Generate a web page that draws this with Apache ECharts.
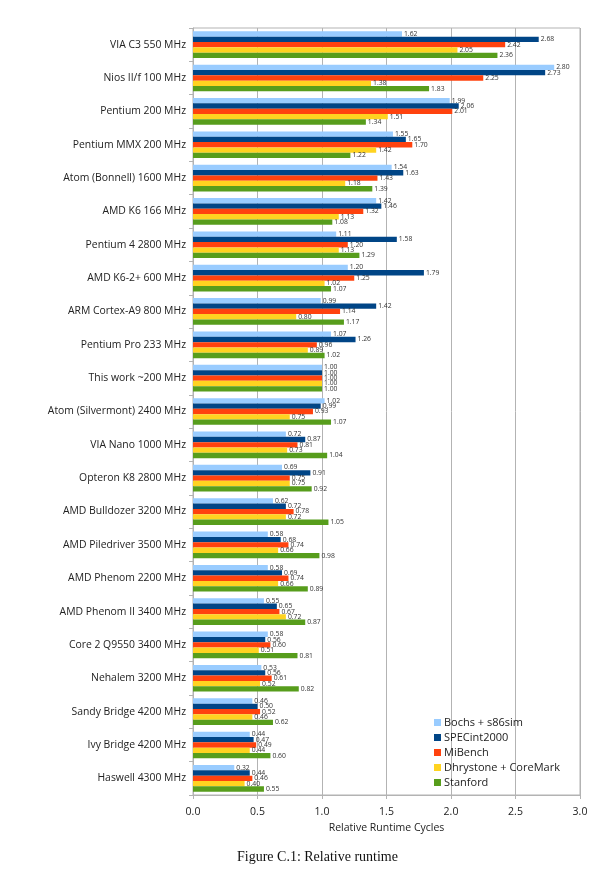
<!DOCTYPE html>
<html>
<head>
<meta charset="utf-8">
<script src="https://cdn.jsdelivr.net/npm/echarts@6/dist/echarts.min.js"></script>
<style>
html,body{margin:0;padding:0;background:#fff;}
#c{width:597px;height:883px;}
</style>
</head>
<body>
<div id="c"></div>
<script>
var categories = ["VIA C3 550 MHz","Nios II/f 100 MHz","Pentium 200 MHz","Pentium MMX 200 MHz","Atom (Bonnell) 1600 MHz","AMD K6 166 MHz","Pentium 4 2800 MHz","AMD K6-2+ 600 MHz","ARM Cortex-A9 800 MHz","Pentium Pro 233 MHz","This work ~200 MHz","Atom (Silvermont) 2400 MHz","VIA Nano 1000 MHz","Opteron K8 2800 MHz","AMD Bulldozer 3200 MHz","AMD Piledriver 3500 MHz","AMD Phenom 2200 MHz","AMD Phenom II 3400 MHz","Core 2 Q9550 3400 MHz","Nehalem 3200 MHz","Sandy Bridge 4200 MHz","Ivy Bridge 4200 MHz","Haswell 4300 MHz"];
var bochs     = [1.62,2.80,1.99,1.55,1.54,1.42,1.11,1.20,0.99,1.07,1.00,1.02,0.72,0.69,0.62,0.58,0.58,0.55,0.58,0.53,0.46,0.44,0.32];
var specint   = [2.68,2.73,2.06,1.65,1.63,1.46,1.58,1.79,1.42,1.26,1.00,0.99,0.87,0.91,0.72,0.68,0.69,0.65,0.56,0.56,0.50,0.47,0.44];
var mibench   = [2.42,2.25,2.01,1.70,1.43,1.32,1.20,1.25,1.14,0.96,1.00,0.93,0.81,0.75,0.78,0.74,0.74,0.67,0.60,0.61,0.52,0.49,0.46];
var dhrystone = [2.05,1.38,1.51,1.42,1.18,1.13,1.13,1.02,0.80,0.89,1.00,0.75,0.73,0.75,0.72,0.66,0.66,0.72,0.51,0.52,0.46,0.44,0.40];
var stanford  = [2.36,1.83,1.34,1.22,1.39,1.08,1.29,1.07,1.17,1.02,1.00,1.07,1.04,0.92,1.05,0.98,0.89,0.87,0.81,0.82,0.62,0.60,0.55];
var seriesNames = ["Bochs + s86sim","SPECint2000","MiBench","Dhrystone + CoreMark","Stanford"];
var xTicks = [0,0.5,1,1.5,2,2.5,3];

var colors = ["#99ccff","#004586","#ff420e","#ffd320","#579d1c"];
var allData = [bochs, specint, mibench, dhrystone, stanford];
var font = "'Open Sans', 'Noto Sans', sans-serif";

var chart = echarts.init(document.getElementById('c'), null, {renderer:'canvas'});
var series = allData.map(function(d, i){
  return {
    name: seriesNames[i],
    type: 'bar',
    data: d,
    barGap: '0%',
    barCategoryGap: '20%',
    itemStyle: {color: colors[i]},
    label: {
      show: true, position: 'right', distance: 2,
      fontSize: 6.8, color: '#333', fontFamily: font,
      formatter: function(p){ return p.value.toFixed(2); }
    }
  };
});
chart.setOption({
  animation: false,
  backgroundColor: '#fff',
  color: colors,
  grid: {left: 193, right: 17, top: 28, bottom: 88, show: true, borderColor: '#b3b3b3', borderWidth: 1},
  xAxis: {
    type: 'value', min: xTicks[0], max: xTicks[xTicks.length-1], interval: 0.5,
    name: 'Relative Runtime Cycles', nameLocation: 'middle', nameGap: 28,
    nameTextStyle: {fontSize: 10.5, color: '#222', fontFamily: font},
    axisLine: {show: true, lineStyle: {color: '#b3b3b3'}},
    axisTick: {show: true, length: 4, lineStyle: {color: '#b3b3b3'}},
    axisLabel: {fontSize: 10.5, color: '#222', fontFamily: font, margin: 12,
      formatter: function(v){ return v.toFixed(1); }},
    splitLine: {show: true, lineStyle: {color: '#b3b3b3'}}
  },
  yAxis: {
    type: 'category', data: categories, inverse: true,
    axisLine: {show: true, lineStyle: {color: '#b3b3b3'}},
    axisTick: {show: true, length: 4, lineStyle: {color: '#b3b3b3'}},
    axisLabel: {fontSize: 10.4, color: '#222', fontFamily: font, margin: 7},
    splitLine: {show: false}
  },
  legend: {
    orient: 'vertical', left: 429, top: 712,
    itemWidth: 7, itemHeight: 7, itemGap: 4, icon: 'rect',
    textStyle: {fontSize: 11, color: '#222', fontFamily: font, padding: [0,0,0,-2]},
    data: seriesNames
  },
  graphic: [{
    type: 'text', left: 237, top: 850,
    style: {text: 'Figure C.1: Relative runtime', font: "14px 'Liberation Serif', 'DejaVu Serif', serif", fill: '#111'}
  }],
  series: series
});
</script>
</body>
</html>
